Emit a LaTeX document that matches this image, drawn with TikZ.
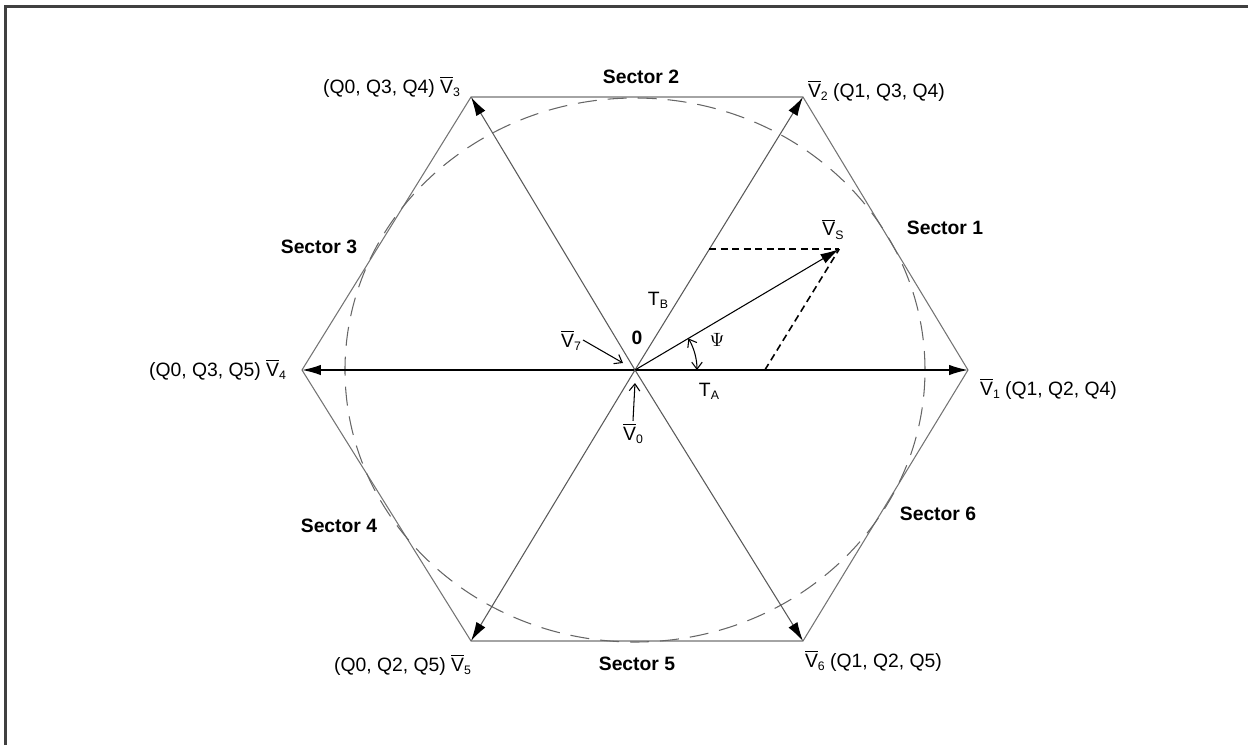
\documentclass[tikz,border=0pt]{standalone}
\usepackage{fontspec}
\setmainfont{Liberation Sans}
\usepackage{amsmath}
\usetikzlibrary{arrows.meta,calc}

\newcommand{\vlab}[1]{$\overline{\mbox{V}}$\raisebox{-0.3ex}{\scriptsize #1}}
\newcommand{\tlab}[1]{T\raisebox{-0.3ex}{\scriptsize #1}}

\begin{document}
\begin{tikzpicture}[x=0.02cm, y=0.02cm,
    every node/.style={font=\fontsize{11}{13}\selectfont, inner sep=1pt},
    sector/.style={font=\fontsize{11}{13}\selectfont\bfseries},
    hexedge/.style={black!55, line width=0.6pt},
    spoke/.style={black!65, line width=0.6pt, -{Latex[length=0.38cm,width=0.21cm,color=black]}},
    comp/.style={black, line width=0.9pt, dash pattern=on 4pt off 2.5pt},
    pointer/.style={black, line width=0.6pt, -{Straight Barb[length=4pt,width=6pt]}}]

    \useasboundingbox (-635,-375) rectangle (613,370);

    % frame
    \draw[black!75, line width=1.6pt] (-629.5,-375) -- (-629.5,363.5) -- (613,363.5);

    % corner points of the hexagon
    \coordinate (o) at (0,0);
    \coordinate (v1) at (333,0);
    \coordinate (v2) at (168,273);
    \coordinate (v3) at (-164,273);
    \coordinate (v4) at (-333,0);
    \coordinate (v5) at (-164,-271);
    \coordinate (v6) at (168,-271);

    % hexagon and inscribed circle
    \draw[hexedge] (v1) -- (v2) -- (v3) -- (v4) -- (v5) -- (v6) -- cycle;
    \draw[black!60, line width=0.6pt, dash pattern=on 0.38cm off 0.22cm] (o) ellipse [x radius=290, y radius=272];

    % active vectors
    \draw[black, line width=0.9pt, {Latex[length=0.38cm,width=0.21cm]}-{Latex[length=0.38cm,width=0.21cm]}] (v4) -- (v1);
    \draw[spoke] (o) -- (v2);
    \draw[spoke] (o) -- (v3);
    \draw[spoke] (o) -- (v5);
    \draw[spoke] (o) -- (v6);

    % reference vector and its components
    \coordinate (ta) at ($(o)!0.39!(v1)$);
    \coordinate (tb) at ($(o)!0.443!(v2)$);
    \coordinate (vs) at ($(ta)+(tb)-(o)$);
    \draw[comp] (tb) -- (vs);
    \draw[comp] (ta) -- (vs);
    \draw[black, line width=0.6pt, -{Latex[length=0.38cm,width=0.21cm]}] (o) -- (vs);
    \draw[black, line width=0.6pt, {Straight Barb[length=4pt,width=6pt]}-{Straight Barb[length=4pt,width=6pt]}]
        ([shift={(0:62)}]o) arc[start angle=0, end angle=30.6, radius=62];

    % vertex labels
    \node[anchor=base west] (lv1) at (343,-25) {\vlab{1} (Q1, Q2, Q4)};
    \node[anchor=base west] (lv2) at (171,273) {\vlab{2} (Q1, Q3, Q4)};
    \node[anchor=base east] (lv3) at (-173,277) {(Q0, Q3, Q4) \vlab{3}};
    \node[anchor=base east] (lv4) at (-347,-6) {(Q0, Q3, Q5) \vlab{4}};
    \node[anchor=base east] (lv5) at (-162,-301) {(Q0, Q2, Q5) \vlab{5}};
    \node[anchor=base west] (lv6) at (168,-297) {\vlab{6} (Q1, Q2, Q5)};
    \node (lvs) at (198,141) {\vlab{S}};

    % sectors
    \node[sector] (sec1) at (310,142) {Sector 1};
    \node[sector] (sec2) at (6,293) {Sector 2};
    \node[sector] (sec3) at (-316,123) {Sector 3};
    \node[sector] (sec4) at (-296,-156) {Sector 4};
    \node[sector] (sec5) at (2,-294) {Sector 5};
    \node[sector] (sec6) at (303,-144) {Sector 6};

    % zero vectors and times
    \node[sector] (zero) at (2,32) {0};
    \node (ltb) at (23,70) {\tlab{B}};
    \node (lta) at (74,-21) {\tlab{A}};
    \node (lpsi) at (82,30) {$\Psi$};
    \node[anchor=base east] (lv7) at (-52,23) {\vlab{7}};
    \node[anchor=base] (lv0) at (-2,-70) {\vlab{0}};
    \coordinate (v7tip) at (-12,7);
    \coordinate (v0tip) at (0,-13);
    \draw[pointer] (lv7.east) -- (v7tip);
    \draw[pointer] (lv0.north) -- (v0tip);

\end{tikzpicture}
\end{document}
